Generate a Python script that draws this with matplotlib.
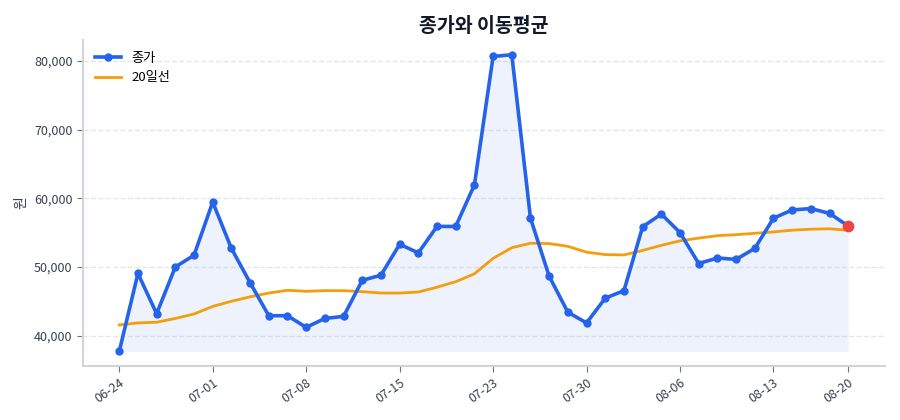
import numpy as np
import matplotlib.pyplot as plt
from matplotlib.ticker import FuncFormatter

plt.rcParams['font.family'] = ['Noto Sans CJK KR', 'DejaVu Sans']

# closing prices (trading days)
close = [37700, 49050, 43200, 50000, 51700, 59450, 52700, 47700, 42900, 42900,
         41200, 42500, 42800, 48050, 48800, 53300, 52050, 55900, 55900, 61950,
         80650, 80900, 57100, 48650, 43400, 41850, 45450, 46550, 55850, 57700,
         55000, 50500, 51300, 51100, 52700, 57100, 58300, 58500, 57800, 55950]
# 20-day moving average
ma20 = [41550, 41850, 41950, 42500, 43150, 44250, 45000, 45650, 46200, 46600,
        46450, 46550, 46550, 46400, 46200, 46200, 46350, 47050, 47850, 49000,
        51250, 52800, 53450, 53400, 53000, 52150, 51800, 51750, 52400, 53150,
        53800, 54200, 54550, 54700, 54900, 55100, 55350, 55500, 55550, 55350]
tick_pos = [0, 5, 10, 15, 20, 25, 30, 35, 39]
tick_labels = ['06-24', '07-01', '07-08', '07-15', '07-23', '07-30', '08-06', '08-13', '08-20']

x = np.arange(len(close))
blue = '#2563eb'
orange = '#f59e0b'
grey = '#d1d5db'

fig, ax = plt.subplots(figsize=(9, 4.2), dpi=100)
fig.subplots_adjust(left=0.092, right=0.983, top=0.905, bottom=0.128)

ax.fill_between(x, close, min(close), color=blue, alpha=0.08, linewidth=0)
ax.plot(x, close, color=blue, lw=2.6, marker='o', ms=5, label='종가', zorder=3)
ax.plot(x, ma20, color=orange, lw=2, label='20일선', zorder=2)
ax.scatter([x[-1]], [close[-1]], s=55, color='#ef4444', zorder=4)

ax.set_title('종가와 이동평균', fontsize=14, fontweight='bold', color='#111827', pad=6)
ax.set_ylabel('원', fontsize=10, color='#374151')
ax.yaxis.set_major_formatter(FuncFormatter(lambda v, p: f'{v:,.0f}'))
ax.set_yticks([40000, 50000, 60000, 70000, 80000])
ax.set_xticks(tick_pos)
ax.set_xticklabels(tick_labels, rotation=35, ha='right', rotation_mode='anchor')
ax.tick_params(colors='#374151', labelsize=9)
ax.tick_params(axis='both', color='#6b7280', length=4)

ax.grid(axis='y', linestyle='--', color='#e5e7eb', lw=1)
ax.set_axisbelow(True)
for s in ['top', 'right']:
    ax.spines[s].set_visible(False)
for s in ['left', 'bottom']:
    ax.spines[s].set_color(grey)
    ax.spines[s].set_linewidth(1.5)

ax.legend(loc='upper left', frameon=False, fontsize=9.5)

fig.savefig('out.png', dpi=100)
